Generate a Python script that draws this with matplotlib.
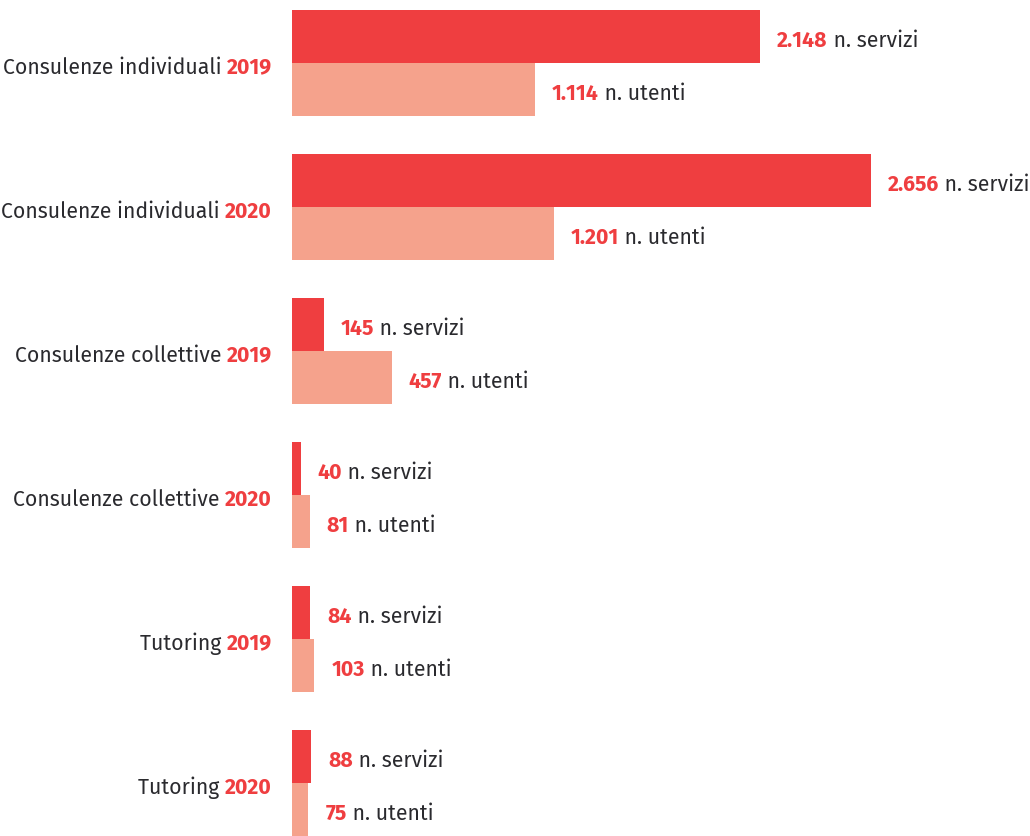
import matplotlib
matplotlib.use("Agg")
import matplotlib.pyplot as plt
from matplotlib.transforms import offset_copy

plt.rcParams['font.family'] = ['Fira Sans', 'Noto Sans', 'DejaVu Sans']

# data
categories = ["Consulenze individuali", "Consulenze individuali",
              "Consulenze collettive", "Consulenze collettive",
              "Tutoring", "Tutoring"]
years = ["2019", "2020", "2019", "2020", "2019", "2020"]
servizi = [2148, 2656, 145, 40, 84, 88]
utenti = [1114, 1201, 457, 81, 103, 75]

RED = "#EF3E40"
SALMON = "#F5A28C"
DARK = "#2A2A2E"

def fmt(v):
    return "{:,}".format(v).replace(",", ".")

fig = plt.figure(figsize=(10.30, 8.36), dpi=100)
# axis starts at x=292px, 0.218 px per unit
ax = fig.add_axes([292 / 1030, 0, 1 - 292 / 1030, 1 - 10 / 836])
ax.set_xlim(0, (1030 - 292) / 0.218)
ax.set_ylim(826, 0)
ax.axis("off")

pitch = 144
bh = 53
for i in range(len(categories)):
    top = i * pitch
    ax.barh(top + bh / 2, servizi[i], height=bh, color=RED, linewidth=0)
    ax.barh(top + bh * 1.5, utenti[i], height=bh, color=SALMON, linewidth=0)

fig.canvas.draw()
r = fig.canvas.get_renderer()

fs = 15.3
dy = 4.5  # text sits a little below the bar centre

def two_part(x, y, first, second, c1, c2, w1, w2):
    # left-aligned two-part label starting at x
    t = ax.text(x, y, first, color=c1, fontweight=w1, fontsize=fs,
                va="center", ha="left")
    fig.canvas.draw()
    w = t.get_window_extent(renderer=r).width
    tr = offset_copy(ax.transData, fig=fig, x=w * 72 / fig.dpi, units="points")
    ax.text(x, y, second, color=c2, fontweight=w2, fontsize=fs,
            va="center", ha="left", transform=tr)

gap = 17 / 0.218
for i in range(len(categories)):
    top = i * pitch
    two_part(servizi[i] + gap, top + bh / 2 + dy, fmt(servizi[i]), " n. servizi",
             RED, DARK, "bold", "normal")
    two_part(utenti[i] + gap, top + bh * 1.5 + dy, fmt(utenti[i]), " n. utenti",
             RED, DARK, "bold", "normal")
    # category label right aligned, year in bold red
    ty = ax.text(-20 / 0.218, top + bh + dy, years[i], color=RED, fontweight="bold",
                 fontsize=fs, va="center", ha="right", clip_on=False)
    fig.canvas.draw()
    w = ty.get_window_extent(renderer=r).width
    tr = offset_copy(ax.transData, fig=fig, x=-w * 72 / fig.dpi, units="points")
    ax.text(-20 / 0.218, top + bh + dy, categories[i] + " ", color=DARK, fontsize=fs,
            va="center", ha="right", transform=tr, clip_on=False)

fig.savefig("out.png", dpi=100)
